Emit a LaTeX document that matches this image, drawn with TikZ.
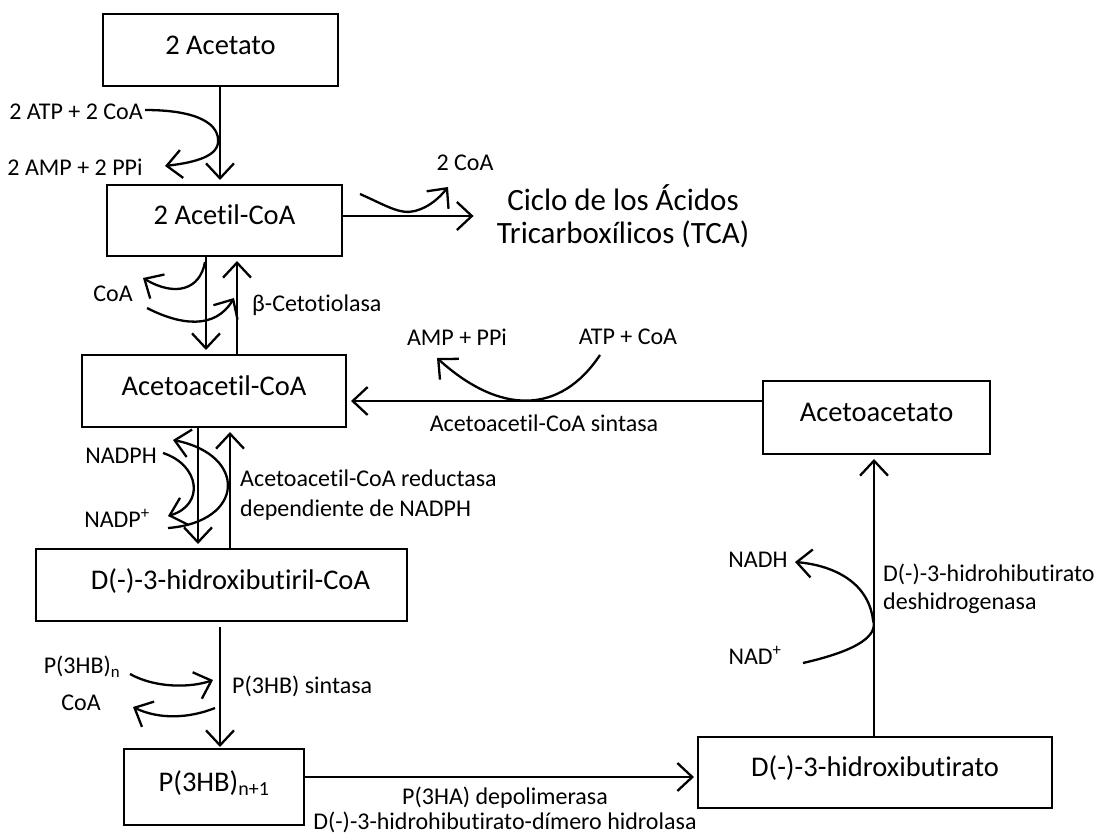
\documentclass[tikz,border=0pt]{standalone}
\usepackage{fontspec}
\setmainfont{Carlito}[Ligatures=NoCommon]
\usetikzlibrary{arrows.meta,calc}
\begin{document}
\begin{tikzpicture}[x=1pt,y=-1pt,
  box/.style={draw, line width=2pt, inner sep=0pt, text height=20pt, text depth=12pt, font=\fontsize{28.5}{34}\selectfont},
  big/.style={font=\fontsize{31}{33}\selectfont, inner sep=0pt, align=center},
  lbl/.style={font=\fontsize{24}{28}\selectfont, inner sep=0pt},
  arr/.style={line width=2.3pt, -{Straight Barb[length=15pt,width=28pt]}, shorten >=4pt},
  carr/.style={line width=2.3pt, -{Straight Barb[length=15pt,width=28pt]}},
]
\useasboundingbox (0,0) rectangle (1097,835);
% boxes
\node[box, minimum width=235pt, minimum height=72pt] (acetato) at (220.5,50) {2 Acetato};
\node[box, minimum width=235pt, minimum height=71pt] (acetil) at (224.5,220.5) {2 Acetil-CoA};
\node[box, minimum width=264pt, minimum height=72pt] (acetoacetil) at (214,391) {Acetoacetil-CoA};
\node[box, minimum width=371pt, minimum height=72pt] (hbcoa) at (221.5,585) {\hspace*{18pt}D(-)-3-hidroxibutiril-CoA};
\node[box, minimum width=180pt, minimum height=76pt] (p3hb) at (214,787) {P(3HB)\textsubscript{n+1}};
\node[box, minimum width=354pt, minimum height=71pt] (hb) at (875,772.5) {D(-)-3-hidroxibutirato};
\node[box, minimum width=227pt, minimum height=73pt] (aa) at (876.5,417.5) {Acetoacetato};
\node[big] (tca) at (623,216) {Ciclo de los Ácidos\\Tricarboxílicos (TCA)};
% labels
\node[lbl] (atp) at (76,112) {2 ATP + 2 CoA};
\node[lbl] (amp) at (75,167) {2 AMP + 2 PPi};
\node[lbl] (coa2) at (465,163) {2 CoA};
\node[lbl] (coa1) at (113,294) {CoA};
\node[lbl, anchor=west] (beta) at (252,305) {β-Cetotiolasa};
\node[lbl] (ampppi) at (457,337) {AMP + PPi};
\node[lbl] (atpcoa) at (628,337) {ATP + CoA};
\node[lbl] (aasint) at (544,423) {Acetoacetil-CoA sintasa};
\node[lbl] (nadph) at (121,456) {NADPH};
\node[lbl] (nadp) at (117,518) {NADP\textsuperscript{+}};
\node[lbl, anchor=west, align=left, font=\fontsize{24}{30}\selectfont] (red) at (240,495) {Acetoacetil-CoA reductasa\\dependiente de NADPH};
\node[lbl] (p3hbn) at (82,667) {P(3HB)\textsubscript{n}};
\node[lbl] (coa3) at (81,703) {CoA};
\node[lbl, anchor=west] (sint) at (232,686) {P(3HB) sintasa};
\node[lbl] (nadh) at (758,560) {NADH};
\node[lbl] (nad) at (755,655) {NAD\textsuperscript{+}};
\node[lbl, anchor=west, align=left, font=\fontsize{24}{28}\selectfont] (deh) at (883,589) {D(-)-3-hidrohibutirato\\deshidrogenasa};
\node[lbl, align=center, font=\fontsize{24}{25}\selectfont] (depol) at (505,810) {P(3HA) depolimerasa\\D(-)-3-hidrohibutirato-dímero hidrolasa};
% helper coordinates
\coordinate (x220) at (220,0);
\coordinate (x206) at (206,0);
\coordinate (x237) at (237,0);
\coordinate (x198) at (198,0);
\coordinate (x230) at (230,0);
\coordinate (x874) at (874,0);
\coordinate (y216) at (0,216);
\coordinate (y401) at (0,401);
\coordinate (y777) at (0,777);
% main arrows
\draw[arr] (acetato.south -| x220) -- (acetil.north -| x220);
\draw[arr, shorten >=23pt] (acetil.east |- y216) -- (tca.west |- y216);
\draw[arr] (acetil.south -| x206) -- (acetoacetil.north -| x206);
\draw[arr] (acetoacetil.north -| x237) -- (acetil.south -| x237);
\draw[arr] (acetoacetil.south -| x198) -- (hbcoa.north -| x198);
\draw[arr] (hbcoa.north -| x230) -- (acetoacetil.south -| x230);
\draw[arr, shorten <=5pt, shorten >=1pt] (hbcoa.south -| x220) -- (p3hb.north -| x220);
\draw[arr] (aa.west |- y401) -- (acetoacetil.east |- y401);
\draw[arr, shorten >=3pt] (p3hb.east |- y777) -- (hb.west |- y777);
\draw[arr] (hb.north -| x874) -- (aa.south -| x874);
% side reactions
\coordinate (s1) at (145,110);
\coordinate (e1) at (165,166);
\draw[carr] (s1) .. controls (200,110) and (220,125) .. (218,143) .. controls (216,158) and (190,163) .. (e1);
\coordinate (s2) at (360,194);
\coordinate (e2) at (448,187);
\draw[carr] (s2) .. controls (385,205) and (400,215) .. (415,211) .. controls (430,207) and (440,197) .. (e2);
\coordinate (s3) at (205,262);
\coordinate (e3) at (143,278);
\draw[carr] (s3) .. controls (200,290) and (175,297) .. (e3);
\coordinate (s4) at (147,308);
\coordinate (e4) at (234,298);
\draw[carr] (s4) .. controls (180,325) and (215,330) .. (e4);
\coordinate (s5) at (600,355);
\coordinate (e5) at (437,358);
\draw[carr] (s5) .. controls (560,415) and (500,415) .. (e5);
\coordinate (s6) at (163,453);
\coordinate (e6) at (168,516);
\draw[carr] (s6) .. controls (200,465) and (205,505) .. (e6);
\coordinate (s7) at (168,528);
\coordinate (e7) at (173,440);
\draw[carr] (s7) .. controls (245,522) and (248,455) .. (e7);
\coordinate (s8) at (130,674);
\coordinate (e8) at (213,680);
\draw[carr] (s8) .. controls (155,688) and (190,688) .. (e8);
\coordinate (s9) at (215,708);
\coordinate (e9) at (133,707);
\draw[carr] (s9) .. controls (190,718) and (160,720) .. (e9);
\coordinate (s10) at (803,663);
\coordinate (e10) at (795,562);
\draw[carr] (s10) .. controls (860,650) and (878,635) .. (873,620) .. controls (868,580) and (830,565) .. (e10);
\end{tikzpicture}
\end{document}
